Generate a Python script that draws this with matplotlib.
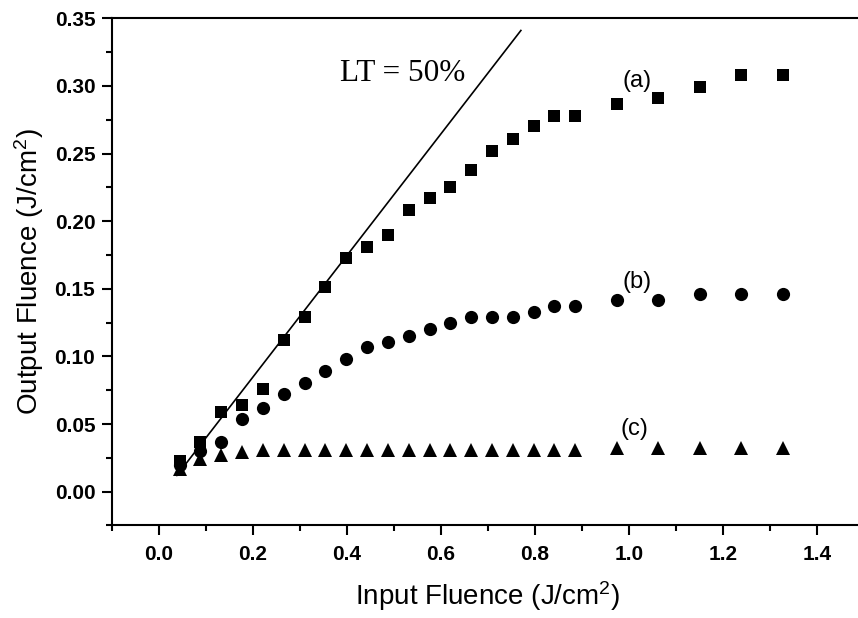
import matplotlib.pyplot as plt
from matplotlib.ticker import MultipleLocator

plt.rcParams['font.family'] = ['Liberation Sans', 'DejaVu Sans']
plt.rcParams['mathtext.default'] = 'regular'

# input fluence (J/cm^2), shared by the three samples
fluence_in = [0.044, 0.088, 0.133, 0.177, 0.221, 0.266, 0.310, 0.354, 0.398,
              0.443, 0.487, 0.531, 0.576, 0.620, 0.664, 0.708, 0.753, 0.797,
              0.841, 0.885, 0.974, 1.062, 1.151, 1.239, 1.328]

# output fluence (J/cm^2) for samples (a), (b), (c)
out_a = [0.023, 0.037, 0.059, 0.064, 0.076, 0.112, 0.129, 0.151, 0.173,
         0.181, 0.190, 0.208, 0.217, 0.225, 0.238, 0.252, 0.261, 0.270,
         0.278, 0.278, 0.287, 0.291, 0.299, 0.308, 0.308]
out_b = [0.020, 0.030, 0.037, 0.054, 0.062, 0.072, 0.080, 0.089, 0.098,
         0.107, 0.111, 0.115, 0.120, 0.125, 0.129, 0.129, 0.129, 0.133,
         0.137, 0.137, 0.142, 0.142, 0.146, 0.146, 0.146]
out_c = [0.017, 0.024, 0.027, 0.029, 0.031, 0.031, 0.031, 0.031, 0.031,
         0.031, 0.031, 0.031, 0.031, 0.031, 0.031, 0.031, 0.031, 0.031,
         0.031, 0.031, 0.032, 0.032, 0.032, 0.032, 0.032]

# linear transmission reference line
lt_x = [0.038, 0.770]
lt_y = [0.012, 0.341]

fig = plt.figure(figsize=(8.58, 6.18), dpi=100)
ax = fig.add_axes([0.1305, 0.1497, 0.8765, 0.8207])

ax.plot(lt_x, lt_y, color='black', lw=1.2)
ax.plot(fluence_in, out_a, 's', color='black', ms=9, mew=0)
ax.plot(fluence_in, out_b, 'o', color='black', ms=9.5, mew=0)
ax.plot(fluence_in, out_c, '^', color='black', ms=9.5, mew=0)

ax.text(0.519, 0.309, 'LT = 50%', family='Liberation Serif', fontsize=22.5,
        ha='center', va='center')
ax.text(1.017, 0.304, '(a)', fontsize=17, ha='center', va='center')
ax.text(1.017, 0.155, '(b)', fontsize=17, ha='center', va='center')
ax.text(1.012, 0.046, '(c)', fontsize=17, ha='center', va='center')

ax.set_xlim(-0.1, 1.5)
ax.set_ylim(-0.025, 0.35)
ax.xaxis.set_major_locator(MultipleLocator(0.2))
ax.xaxis.set_minor_locator(MultipleLocator(0.1))
ax.yaxis.set_major_locator(MultipleLocator(0.05))
ax.yaxis.set_minor_locator(MultipleLocator(0.025))
ax.xaxis.set_major_formatter(plt.FormatStrFormatter('%.1f'))
ax.yaxis.set_major_formatter(plt.FormatStrFormatter('%.2f'))

ax.tick_params(which='major', direction='out', length=7, width=1.5,
               labelsize=15, pad=5)
ax.tick_params(axis='x', which='major', pad=7)
ax.tick_params(which='minor', direction='out', length=4, width=1.5)
for lbl in ax.get_xticklabels() + ax.get_yticklabels():
    lbl.set_fontweight('bold')
for side in ['left', 'bottom', 'top', 'right']:
    ax.spines[side].set_linewidth(1.5)

ax.set_xlabel('Input Fluence (J/cm$^2$)', fontsize=20, labelpad=11)
ax.set_ylabel('Output Fluence (J/cm$^2$)', fontsize=20, labelpad=6)

plt.savefig('out.png', dpi=100)
